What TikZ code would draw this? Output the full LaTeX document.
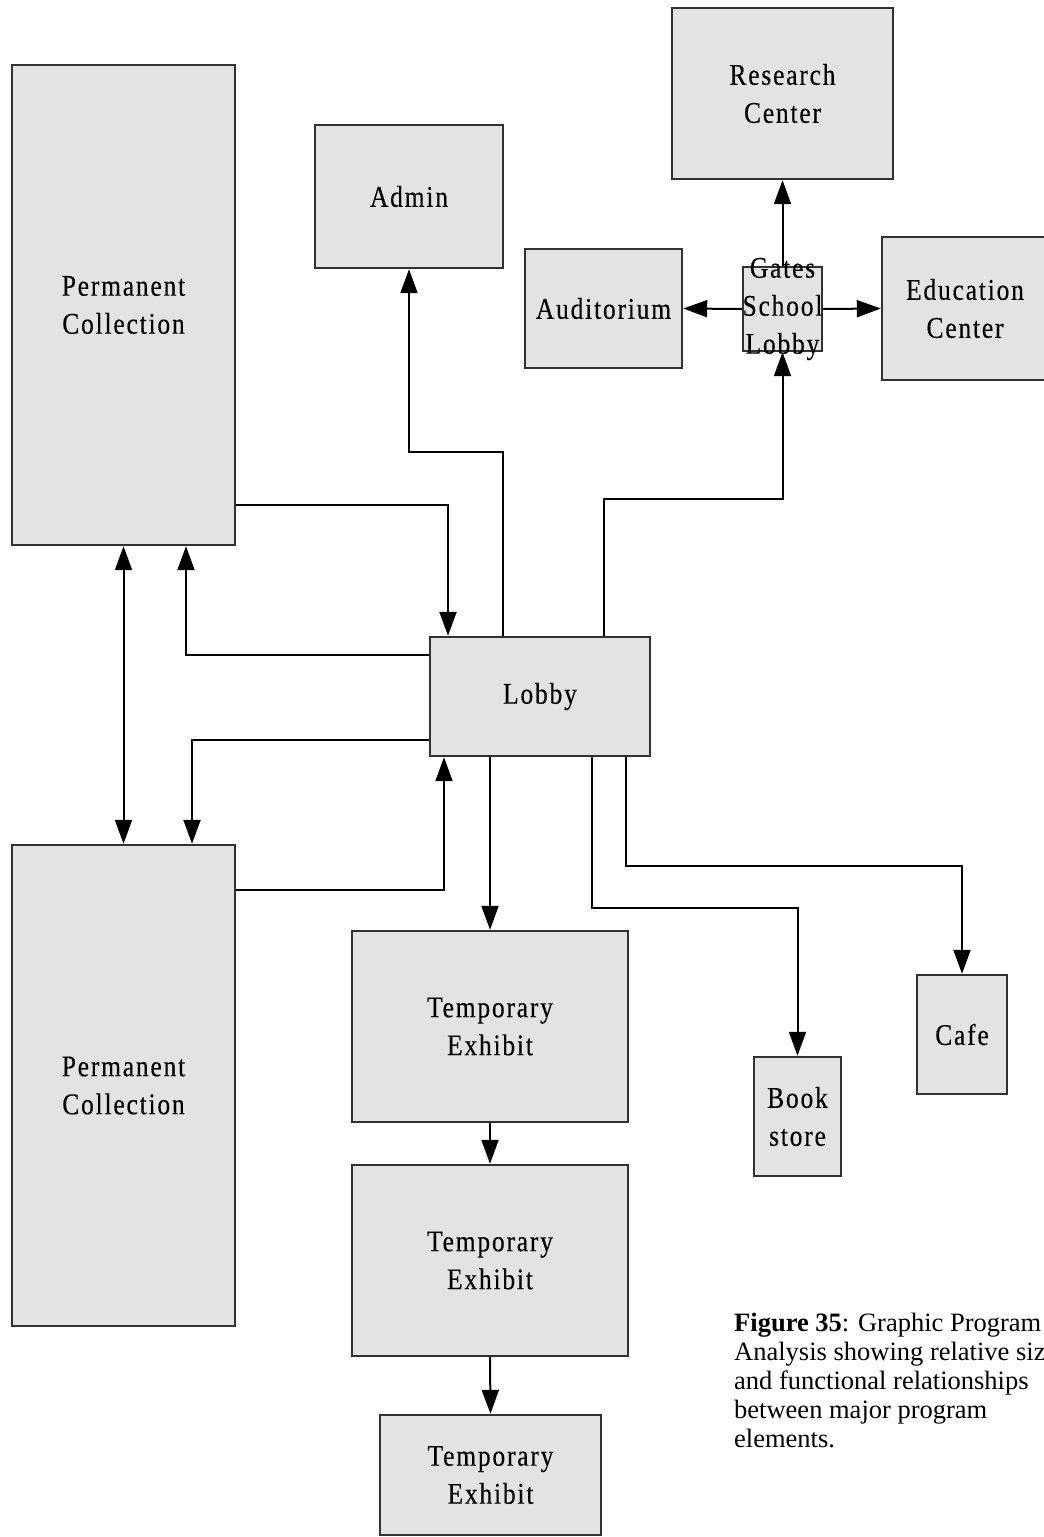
\documentclass[tikz,border=0pt]{standalone}
\usepackage{fontspec}
\setmainfont{Liberation Serif}
\newfontfamily\boxfont[FakeStretch=0.85,LetterSpace=6,FakeBold=0.3]{Liberation Serif}
\usetikzlibrary{arrows.meta}
\definecolor{boxgray}{RGB}{227,227,227}
\definecolor{edgegray}{RGB}{50,50,50}
\begin{document}
\begin{tikzpicture}[x=1pt,y=-1pt,
    room/.style={draw=edgegray,line width=2.4pt,fill=boxgray,inner sep=0pt,
      align=center,font=\boxfont\fontsize{30}{38}\selectfont},
    link/.style={line width=2pt,-{Triangle[length=24pt,width=17pt]}},
    caption/.style={align=left,inner sep=0pt,font=\fontsize{26.5}{29}\selectfont}]
  \useasboundingbox (0,0) rectangle (1044,1537);
  \clip (0,0) rectangle (1044,1537);
  % rooms
  \node[room,minimum width=221pt,minimum height=171pt] (research) at (782.5,93.5) {Research\\Center};
  \node[room,minimum width=188pt,minimum height=143pt] (admin) at (409,196.5) {Admin};
  \node[room,minimum width=223pt,minimum height=480pt] (permA) at (123.5,305) {Permanent\\Collection};
  \node[room,minimum width=157pt,minimum height=119pt] (audit) at (603.5,308.5) {Auditorium};
  \node[room,minimum width=79pt,minimum height=84pt,
    label={[align=center,font=\boxfont\fontsize{30}{38}\selectfont]center:Gates\\School\\Lobby}] (gates) at (782.5,309) {};
  \node[room,minimum width=166pt,minimum height=143pt] (educ) at (965,308.5) {Education\\Center};
  \node[room,minimum width=220pt,minimum height=119pt] (lobby) at (540,696.5) {Lobby};
  \node[room,minimum width=223pt,minimum height=481pt] (permB) at (123.5,1085.5) {Permanent\\Collection};
  \node[room,minimum width=276pt,minimum height=191pt] (tempA) at (490,1026.5) {Temporary\\Exhibit};
  \node[room,minimum width=276pt,minimum height=191pt] (tempB) at (490,1260.5) {Temporary\\Exhibit};
  \node[room,minimum width=221pt,minimum height=120pt] (tempC) at (490.5,1475) {Temporary\\Exhibit};
  \node[room,minimum width=87pt,minimum height=119pt] (books) at (797.5,1116.5) {Book\\store};
  \node[room,minimum width=90pt,minimum height=119pt] (cafe) at (962,1034.5) {Cafe};
  % links
  \draw[link] (gates.north) -- (research.south);
  \draw[link] (gates.west) -- (audit.east);
  \draw[link] (gates.east) -- (educ.west);
  \draw[link] ([xshift=64pt]lobby.north) -- ++(0,-137) -| (gates.south);
  \draw[link] ([xshift=-37pt]lobby.north) -- ++(0,-184) -| (admin.south);
  \draw[link] ([yshift=-200pt]permA.east) -| ([xshift=-92pt]lobby.north);
  \draw[link] ([yshift=41.5pt]lobby.west) -| ([xshift=62.5pt]permA.south);
  \draw[link,{Triangle[length=24pt,width=17pt]}-{Triangle[length=24pt,width=17pt]}] (permA.south) -- (permB.north);
  \draw[link] ([yshift=-43.5pt]lobby.west) -| ([xshift=68.5pt]permB.north);
  \draw[link] ([yshift=195.5pt]permB.east) -| ([xshift=-96pt]lobby.south);
  \draw[link] (tempA.north |- lobby.south) -- (tempA.north);
  \draw[link] ([xshift=52pt]lobby.south) -- ++(0,151) -| (books.north);
  \draw[link] ([xshift=86pt]lobby.south) -- ++(0,109) -| (cafe.north);
  \draw[link] (tempA.south) -- (tempB.north);
  \draw[link] (tempB.south) -- (tempC.north);
  % caption
  \node[caption,anchor=north west] (cap) at (734,1313)
    {\textbf{Figure 35}: Graphic Program\\Analysis showing relative sizes\\and functional relationships\\between major program\\elements.};
\end{tikzpicture}
\end{document}
